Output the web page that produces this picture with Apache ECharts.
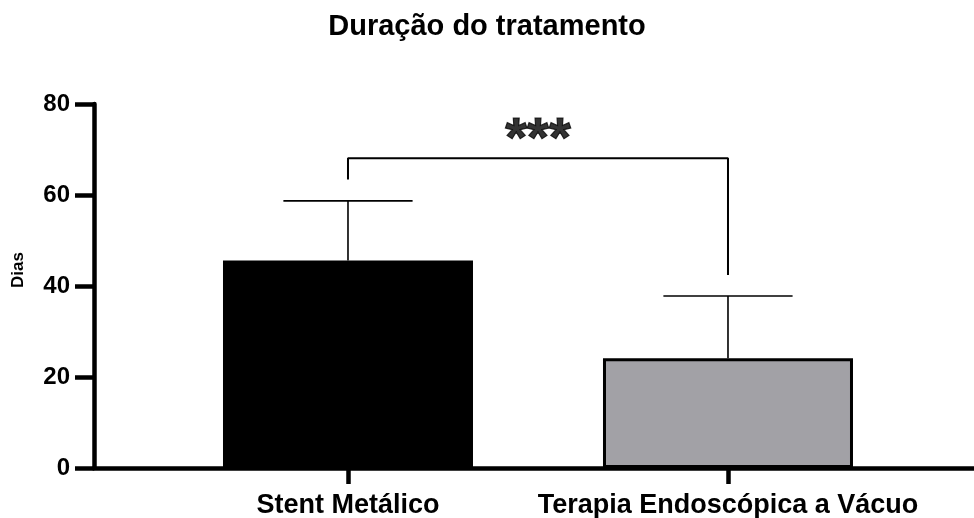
<!DOCTYPE html>
<html>
<head>
<meta charset="utf-8">
<script src="https://cdn.jsdelivr.net/npm/echarts@6/dist/echarts.min.js"></script>
<style>html,body{margin:0;padding:0;background:#fff}#c{width:974px;height:518px}</style>
</head>
<body>
<div id="c"></div>
<script>
const categories = ['Stent Metálico', 'Terapia Endoscópica a Vácuo'];
const means = [45.6, 24.1];
const sdUpper = [58.7, 37.8];
const barColors = ['#000000', '#a2a1a6'];
const yTicks = [0, 20, 40, 60, 80];
const bracket = [[1, 63.4], [1, 68.1], [2, 68.1], [2, 42.4]];
const sigLabel = '***';
const sigPos = [1.5, 72];

const FONT = '"Liberation Sans", Arial, sans-serif';
const chart = echarts.init(document.getElementById('c'), null, {renderer: 'canvas'});

const positions = categories.map((_, i) => i + 1);

chart.setOption({
  animation: false,
  title: {
    text: 'Duração do tratamento',
    left: 'center', top: 7,
    textStyle: {fontFamily: FONT, fontWeight: 'bold', fontSize: 29, color: '#000'}
  },
  grid: {left: 94, right: 0, top: 104, bottom: 50, containLabel: false, outerBoundsMode: 'none'},
  xAxis: {
    type: 'value', min: 0.3316, max: 2.6474,
    splitLine: {show: false},
    axisLine: {show: true, lineStyle: {color: '#000', width: 4.5}},
    axisTick: {show: true, length: 16, lineStyle: {color: '#000', width: 4.5}, customValues: positions},
    axisLabel: {
      customValues: positions, margin: 24,
      formatter: v => categories[Math.round(v) - 1] || '',
      fontFamily: FONT, fontWeight: 'bold', fontSize: 27, color: '#000'
    }
  },
  yAxis: {
    type: 'value', min: 0, max: 80, interval: 20,
    name: 'Dias', nameLocation: 'middle', nameGap: 67,
    nameTextStyle: {fontFamily: FONT, fontWeight: 'bold', fontSize: 17, color: '#000', padding: [0, 0, 0, 32]},
    splitLine: {show: false},
    axisLine: {show: true, lineStyle: {color: '#000', width: 4.5}},
    axisTick: {show: true, length: 19, lineStyle: {color: '#000', width: 4.5}},
    axisLabel: {
      margin: 24, formatter: v => yTicks.includes(v) ? String(v) : '',
      fontFamily: FONT, fontWeight: 'bold', fontSize: 24, color: '#000'
    }
  },
  series: [
    {
      type: 'bar', barWidth: 250,
      data: means.map((m, i) => ({value: [positions[i], m], itemStyle: {color: barColors[i]}})),
      itemStyle: {borderColor: '#000', borderWidth: 3},
      z: 2
    },
    {
      type: 'custom', z: 3,
      data: means.map((m, i) => [positions[i], m, sdUpper[i]]),
      renderItem: (params, api) => {
        const x = api.value(0), lo = api.value(1), hi = api.value(2);
        const p0 = api.coord([x, lo]);
        const p1 = api.coord([x, hi]);
        const cl = api.coord([x - 0.17, hi]);
        const cr = api.coord([x + 0.17, hi]);
        const st = {stroke: '#000', lineWidth: 1.6};
        return {type: 'group', children: [
          {type: 'line', shape: {x1: p0[0], y1: p0[1], x2: p1[0], y2: p1[1]}, style: st},
          {type: 'line', shape: {x1: cl[0], y1: cl[1], x2: cr[0], y2: cr[1]}, style: st}
        ]};
      }
    },
    {
      type: 'line', data: bracket, symbol: 'none', z: 4,
      lineStyle: {color: '#000', width: 2}
    },
    {
      type: 'scatter', data: [sigPos], symbolSize: 0, z: 5,
      itemStyle: {color: '#000'},
      label: {
        show: true, position: 'inside', formatter: sigLabel,
        fontFamily: FONT, fontWeight: 'bold', fontSize: 56, color: '#000',
        textBorderColor: '#000', textBorderWidth: 1.2
      }
    }
  ]
});
</script>
</body>
</html>
